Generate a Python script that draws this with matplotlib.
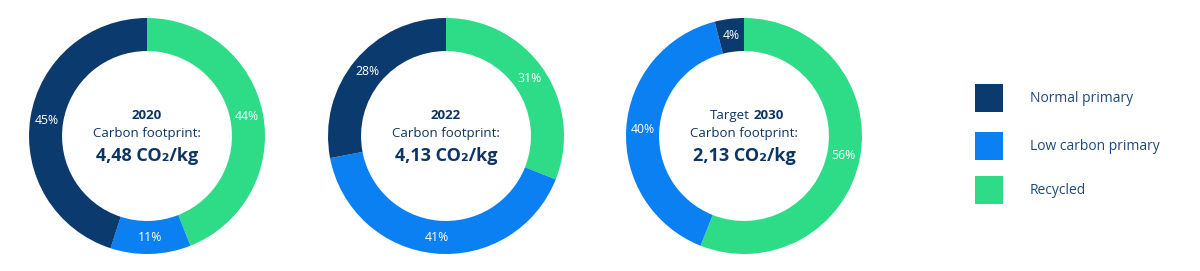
import matplotlib.pyplot as plt
from matplotlib.patches import Rectangle

plt.rcParams['font.family'] = ['Open Sans', 'DejaVu Sans']

categories = ['Recycled', 'Low carbon primary', 'Normal primary']
colors = ['#2EDC88', '#0A80F2', '#0B3B6E']
years = ['2020', '2022', '2030']
prefixes = ['', '', 'Target']
footprints = ['4,48', '4,13', '2,13']
shares = [
    [44, 11, 45],
    [31, 41, 28],
    [56, 40, 4],
]
legend_order = ['Normal primary', 'Low carbon primary', 'Recycled']

W, H = 1200, 271
fig = plt.figure(figsize=(W / 100, H / 100), dpi=100)
fig.patch.set_facecolor('white')

text_color = '#0D3563'
centers_x = [147, 446, 744]
center_y = 136
R = 118

for cx, vals, yr, pre, fp in zip(centers_x, shares, years, prefixes, footprints):
    ax = fig.add_axes([(cx - R) / W, (H - center_y - R) / H, 2 * R / W, 2 * R / H])
    ax.pie(vals, colors=colors, startangle=90, counterclock=False,
           radius=1.0, wedgeprops=dict(width=0.28, linewidth=0),
           autopct='%d%%', pctdistance=0.86,
           textprops=dict(color='white', fontsize=8.8))
    ax.set_xlim(-1, 1)
    ax.set_ylim(-1, 1)
    ax.set_aspect('equal')
    ax.axis('off')

    # centre texts
    if pre:
        ax.annotate(pre, xy=(0, 0.17), xytext=(4, 0), textcoords='offset points',
                    ha='right', va='center', fontsize=9.5, color=text_color)
        ax.annotate(yr, xy=(0, 0.17), xytext=(7, 0), textcoords='offset points',
                    ha='left', va='center', fontsize=9.5, color=text_color,
                    fontweight='bold')
    else:
        ax.text(0, 0.17, yr, ha='center', va='center', fontsize=9.5,
                color=text_color, fontweight='bold')
    ax.text(0, 0.02, 'Carbon footprint:', ha='center', va='center', fontsize=9.5,
            color=text_color)
    ax.text(0, -0.17, fp + ' CO\u2082/kg', ha='center', va='center', fontsize=13,
            color=text_color, fontweight='bold')

# legend
lax = fig.add_axes([0, 0, 1, 1])
lax.set_xlim(0, W)
lax.set_ylim(H, 0)
lax.axis('off')
legend_y = [98, 146, 190]
for lab, ly in zip(legend_order, legend_y):
    col = colors[categories.index(lab)]
    lax.add_patch(Rectangle((975, ly - 14), 28, 28, color=col, linewidth=0))
    lax.text(1030, ly, lab, ha='left', va='center', fontsize=10, color='#1F4A78')

fig.savefig('out.png', dpi=100, facecolor='white')
